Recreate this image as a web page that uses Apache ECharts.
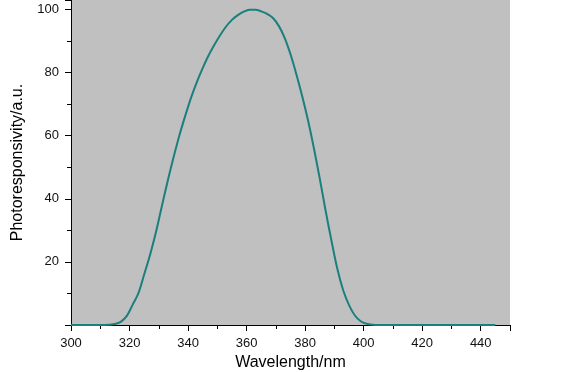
<!DOCTYPE html>
<html>
<head>
<meta charset="utf-8">
<script src="https://cdn.jsdelivr.net/npm/echarts@6/dist/echarts.min.js"></script>
<style>html,body{margin:0;padding:0;background:#fff;}#c{width:563px;height:372px;}</style>
</head>
<body>
<div id="c"></div>
<script>
const wavelength = [300,305,310,313,315,317,319,321,323,325,327,329,331,333,335,337,339,341,343,345,347,349,351,353,355,357,359,361,363,365,367,369,371,373,375,377,379,381,383,385,387,389,391,393,395,397,399,401,403,405,410,420,430,440,445];
const photoresponsivity = [0,0,0,0.1,0.3,1.0,2.8,6.3,10,16,22.2,29.3,37.5,45.5,53,60,66.2,72,77,81.4,85.4,88.8,91.9,94.6,96.7,98.2,99.3,99.9,99.9,99.4,98.6,97.3,94.8,91,85.8,79.5,72.5,64.8,56,46.4,36.2,26.7,17.8,11,6.3,3,1.2,0.4,0.1,0,0,0,0,0,0];
const xTicks = [300,320,340,360,380,400,420,440];
const yTicks = [20,40,60,80,100];

const chart = echarts.init(document.getElementById('c'));
chart.setOption({
  animation: false,
  backgroundColor: '#ffffff',
  grid: {left: 71, right: 53, top: 0, bottom: 47, show: true, backgroundColor: '#c0c0c0', borderWidth: 0, containLabel: false, outerBoundsMode: 'none'},
  xAxis: {
    type: 'value', min: 300, max: 450, interval: 20,
    name: 'Wavelength/nm', nameLocation: 'middle', nameGap: 25,
    nameTextStyle: {fontFamily: 'Liberation Sans', fontSize: 16, color: '#000'},
    axisLine: {show: true, onZero: false, lineStyle: {color: '#000', width: 1}},
    axisTick: {show: true, length: 6, lineStyle: {color: '#000'}},
    minorTick: {show: true, splitNumber: 2, length: 4, lineStyle: {color: '#000'}},
    splitLine: {show: false},
    axisLabel: {fontFamily: 'Liberation Sans', fontSize: 13, color: '#111', margin: 12,
      formatter: v => xTicks.includes(v) ? String(v) : ''}
  },
  yAxis: {
    type: 'value', min: 0, max: 103, interval: 20,
    name: 'Photoresponsivity/a.u.', nameLocation: 'middle', nameGap: 45,
    nameTextStyle: {fontFamily: 'Liberation Sans', fontSize: 16, color: '#000'},
    axisLine: {show: true, lineStyle: {color: '#000', width: 1}},
    axisTick: {show: true, length: 6, lineStyle: {color: '#000'}},
    minorTick: {show: true, splitNumber: 2, length: 4, lineStyle: {color: '#000'}},
    splitLine: {show: false},
    axisLabel: {fontFamily: 'Liberation Sans', fontSize: 13, color: '#111', margin: 12,
      formatter: v => yTicks.includes(v) ? String(v) : ''}
  },
  series: [{
    type: 'line',
    data: wavelength.map((w, i) => [w, photoresponsivity[i]]),
    showSymbol: false,
    smooth: 0.3,
    lineStyle: {color: '#1a7f7d', width: 2},
    itemStyle: {color: '#1a7f7d'}
  }]
});
</script>
</body>
</html>
